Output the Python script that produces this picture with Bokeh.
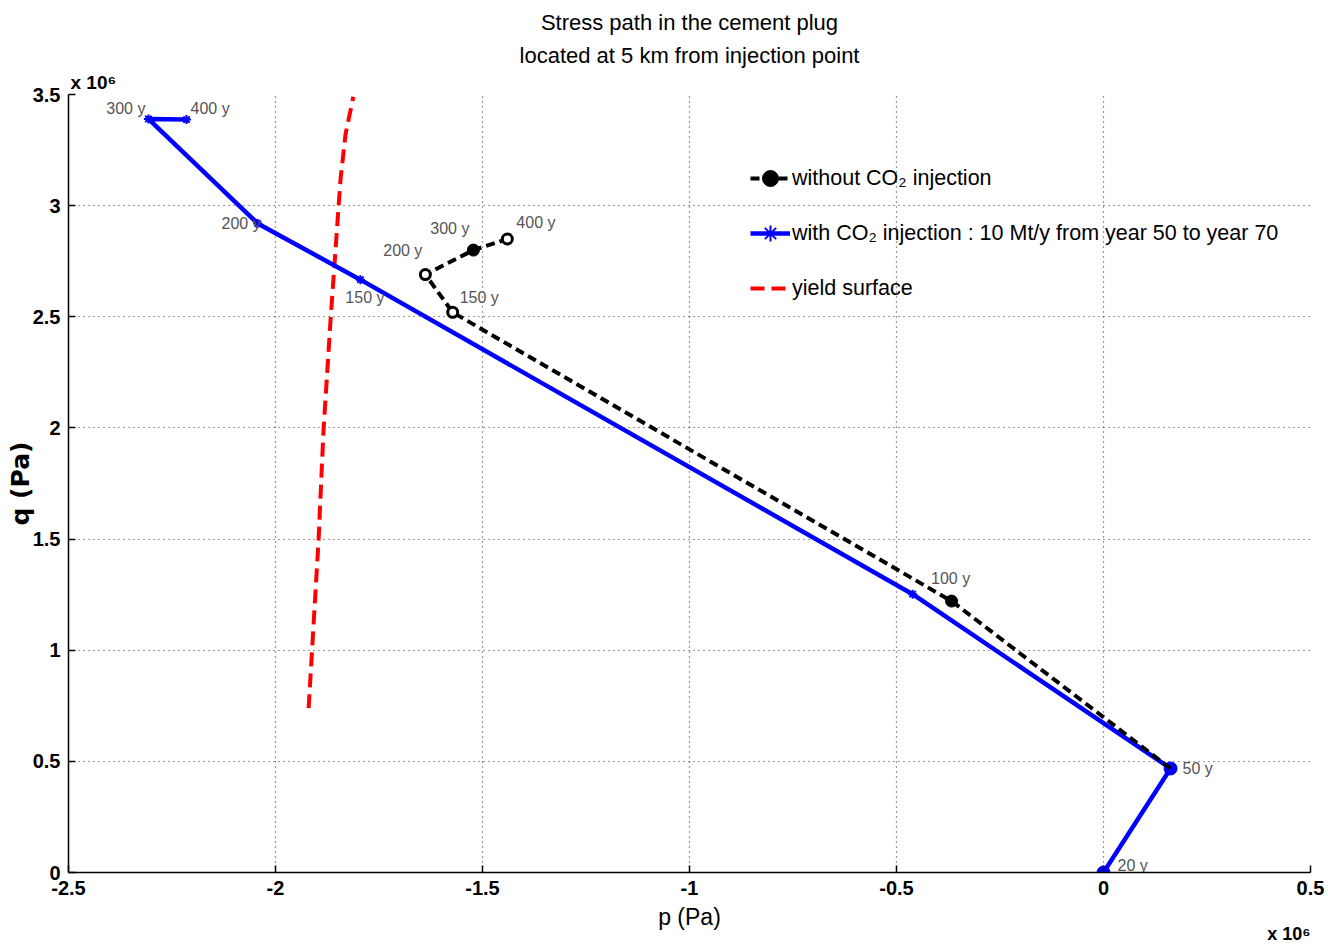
from bokeh.plotting import figure
from bokeh.models import FixedTicker, Legend, LegendItem, Range1d, Title
from bokeh.embed import file_html
from bokeh.resources import INLINE
from bokeh.core.properties import value

FONT = "Liberation Sans"

# values in units of 1e6 Pa
# path with CO2 injection
with_years = ["20 y", "50 y", "100 y", "150 y", "200 y", "300 y", "400 y"]
with_p = [0.0, 0.162, -0.461, -1.795, -2.043, -2.307, -2.215]
with_q = [0.0, 0.468, 1.252, 2.667, 2.920, 3.390, 3.387]

# path without CO2 injection
without_years = ["50 y", "100 y", "150 y", "200 y", "300 y", "400 y"]
without_p = [0.162, -0.367, -1.572, -1.638, -1.522, -1.440]
without_q = [0.468, 1.221, 2.520, 2.690, 2.800, 2.850]

# yield surface
yield_p = [-1.920, -1.896, -1.884, -1.867, -1.843, -1.831, -1.812]
yield_q = [0.739, 1.495, 1.991, 2.486, 3.117, 3.320, 3.490]

x_ticks = [-2.5, -2, -1.5, -1, -0.5, 0, 0.5]
y_ticks = [0, 0.5, 1, 1.5, 2, 2.5, 3, 3.5]

p = figure(width=1326, height=944,
           min_border_left=68, min_border_right=16, min_border_top=94, min_border_bottom=72,
           x_range=Range1d(-2.5, 0.5), y_range=Range1d(0, 3.5),
           output_backend="svg", toolbar_location=None, background_fill_color="white")
p.outline_line_color = None

# titles above (first added is closest to the frame)
t_mult = Title(text="x 10\u2076", align="left", offset=2, text_font=FONT, text_color="black",
               text_font_size="19px", text_font_style="bold", standoff=4)
t2 = Title(text="located at 5 km from injection point", align="center", text_color="black",
           text_font=FONT, text_font_size="22px", text_font_style="normal", standoff=0)
t1 = Title(text="Stress path in the cement plug", align="center", text_color="black",
           text_font=FONT, text_font_size="22px", text_font_style="normal", standoff=12)
p.add_layout(t_mult, "above")
p.add_layout(t2, "above")
p.add_layout(t1, "above")

# axes
for ax in (p.xaxis[0], p.yaxis[0]):
    ax.axis_line_color = "black"
    ax.axis_line_width = 1.5
    ax.major_tick_in = 7
    ax.major_tick_out = 0
    ax.minor_tick_line_color = None
    ax.major_tick_line_color = "black"
    ax.major_tick_line_width = 1.5
    ax.major_label_text_font = FONT
    ax.major_label_text_font_style = "bold"
    ax.major_label_text_font_size = "20px"
    ax.major_label_text_color = "black"
    ax.axis_label_text_color = "black"

p.xaxis.ticker = FixedTicker(ticks=x_ticks)
p.yaxis.ticker = FixedTicker(ticks=y_ticks)
p.xaxis.major_label_overrides = {t: ("%g" % t) for t in x_ticks}
p.yaxis.major_label_overrides = {t: ("%g" % t) for t in y_ticks}
p.xaxis.major_label_standoff = 8
p.yaxis.major_label_standoff = 8
p.xaxis.axis_label = "p (Pa)"
p.xaxis.axis_label_text_font = FONT
p.xaxis.axis_label_text_font_size = "23px"
p.xaxis.axis_label_text_font_style = "normal"
p.xaxis.axis_label_standoff = 6
p.yaxis.axis_label = "q (Pa)"
p.yaxis.axis_label_text_font = "DejaVu Sans"
p.yaxis.axis_label_text_font_size = "25px"
p.yaxis.axis_label_text_font_style = "bold"
p.yaxis.axis_label_standoff = -5

# multiplier under the right end of the x axis
t_mult_x = Title(text="x 10\u2076", align="right", offset=0, text_font=FONT, text_color="black",
                 text_font_size="18px", text_font_style="bold", standoff=-20,
                 vertical_align="middle")
p.add_layout(t_mult_x, "below")

for g in (p.xgrid[0], p.ygrid[0]):
    g.grid_line_color = "black"
    g.grid_line_dash = "1 4"
    g.grid_line_width = 1.2
    g.grid_line_alpha = 0.8

# yield surface
r_yield = p.line(yield_p, yield_q, line_color="#ff0000", line_width=4, line_dash="14 7")

# with injection
r_with = p.line(with_p, with_q, line_color="#0000ff", line_width=4.5)
r_with_dots = p.scatter(with_p[:2], with_q[:2], marker="circle", size=13,
                        fill_color="#0000ff", line_color="#0000ff")
r_with_ast = p.scatter(with_p[2:], with_q[2:], marker="asterisk", size=9,
                       line_color="#0000ff", line_width=2)

# without injection
r_wo = p.line(without_p, without_q, line_color="black", line_width=4, line_dash="9 5")
filled = [1, 4]
opened = [2, 3, 5]
r_wo_f = p.scatter([without_p[i] for i in filled], [without_q[i] for i in filled],
                   marker="circle", size=12, fill_color="black", line_color="black")
r_wo_o = p.scatter([without_p[i] for i in opened], [without_q[i] for i in opened],
                   marker="circle", size=10, fill_color="white", line_color="black", line_width=3)

# year labels
lab_style = dict(text_font=value(FONT), text_font_size="16px", text_color="#555555",
                 text_baseline="middle")
with_offsets = {0: (14, -7, "left"), 1: (12, 0, "left"), 3: (-15, 18, "left"),
                4: (3, 0, "right"), 5: (-3, -10, "right"), 6: (4, -11, "left")}
for i, (dx, dy, al) in with_offsets.items():
    p.text([with_p[i]], [with_q[i]], text=[with_years[i]], x_offset=dx, y_offset=dy,
           text_align=al, **lab_style)
without_offsets = {1: (-1, -23, "center"), 2: (7, -15, "left"), 3: (-3, -24, "right"),
                   4: (-4, -22, "right"), 5: (9, -16, "left")}
for i, (dx, dy, al) in without_offsets.items():
    p.text([without_p[i]], [without_q[i]], text=[without_years[i]], x_offset=dx, y_offset=dy,
           text_align=al, **lab_style)

# main legend
legend = Legend(items=[
    LegendItem(label="without CO\u2082 injection", renderers=[r_wo, r_wo_f]),
    LegendItem(label="with CO\u2082 injection : 10 Mt/y from year 50 to year 70",
               renderers=[r_with, r_with_ast]),
    LegendItem(label="yield surface", renderers=[r_yield]),
], location=(682, 564))
legend.label_text_font = FONT
legend.label_text_font_size = "21.5px"
legend.label_text_color = "black"
legend.glyph_width = 40
legend.glyph_height = 40
legend.label_height = 40
legend.spacing = 15
legend.padding = 0
legend.margin = 0
legend.label_standoff = 2
legend.border_line_color = None
legend.background_fill_alpha = 0
p.add_layout(legend, "center")

open("out.html", "w").write(file_html(p, INLINE))
